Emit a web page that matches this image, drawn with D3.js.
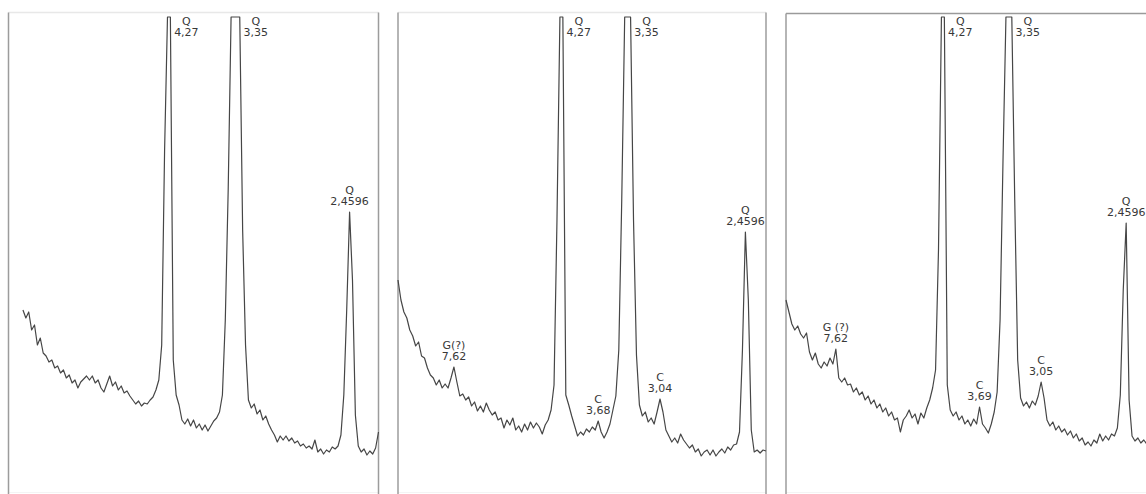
<!DOCTYPE html>
<html>
<head>
<meta charset="utf-8">
<script src="https://cdn.jsdelivr.net/npm/d3@7"></script>
<style>
  body { margin: 0; background: #fff; }
  svg { display: block; font-family: "DejaVu Sans", sans-serif; }
</style>
</head>
<body>
<svg width="1146" height="494"></svg>
<script>
// step scans: 2theta (deg, Cu Ka) start + fixed step, then counts
var step = 0.25;
var start1 = 8.25, start2 = 7.0, start3 = 7.5;

var counts1 = [364,348,360,324,334,294,308,278,272,260,
  264,248,252,238,244,228,234,218,224,208,
  220,226,232,224,232,218,224,208,200,216,
  232,212,220,204,212,198,202,192,184,176,
  182,172,178,176,184,190,204,224,294,684,
  950,950,264,194,174,144,136,146,132,144,
  128,136,124,134,122,132,142,148,160,194,
  344,604,950,950,950,950,524,294,184,168,
  176,156,164,144,152,136,124,114,100,112,
  104,112,102,108,98,102,92,96,88,92,
  86,104,80,86,76,84,80,90,86,92,
  114,194,364,560,424,154,92,80,86,74,
  82,76,88,120];

var counts2 = [424,384,360,348,324,312,292,300,272,268,
  248,234,228,214,224,208,216,208,228,250,
  220,192,196,184,190,172,180,162,172,160,
  178,164,154,160,144,148,128,144,134,148,
  124,132,120,136,124,140,128,138,130,116,
  134,144,164,214,544,950,950,194,174,152,
  132,112,120,114,126,120,130,124,142,120,
  108,120,136,164,192,284,584,950,950,950,
  544,274,174,152,160,140,148,136,160,186,
  160,124,112,100,108,98,116,104,96,88,
  94,80,86,72,80,84,74,84,72,80,
  86,78,90,84,94,96,120,284,520,384,
  124,80,84,78,84,82];

var counts3 = [384,360,336,324,332,316,308,318,280,264,
  278,256,248,260,252,268,256,286,228,220,
  228,214,216,200,208,194,200,184,192,176,
  184,168,176,160,168,152,160,144,148,120,
  144,152,164,148,156,136,158,148,168,184,
  208,244,484,950,950,214,164,152,160,144,
  152,136,144,132,146,136,170,136,128,118,
  136,160,200,344,664,950,950,950,584,264,
  188,172,180,168,182,174,192,220,188,144,
  132,140,124,132,120,126,114,122,108,116,
  102,108,94,100,92,104,98,116,102,112,
  104,116,112,128,194,404,538,184,112,102,
  108,98,104,96];

// picked reflections: phase, d-spacing (A)
var peaks1 = [["Q","4,27"], ["Q","3,35"], ["Q","2,4596"]];
var peaks2 = [["G(?)","7,62"], ["Q","4,27"], ["C","3,68"], ["Q","3,35"], ["C","3,04"], ["Q","2,4596"]];
var peaks3 = [["G (?)","7,62"], ["Q","4,27"], ["C","3,69"], ["Q","3,35"], ["C","3,05"], ["Q","2,4596"]];

var maxCount = 950;  // display clips here

var panels = [
  {counts: counts1, start: start1, peaks: peaks1, dom: [7, 39],    left: 8.5, right: 378.5, top: 12.5, topColor: "#e8e8e8"},
  {counts: counts2, start: start2, peaks: peaks2, dom: [7, 38.25], left: 398, right: 766,   top: 12.5, topColor: "#e8e8e8"},
  {counts: counts3, start: start3, peaks: peaks3, dom: [7.5, 39],  left: 786, right: 1155.5, top: 13.5, topColor: "#9a9a9a"}
];

var svg = d3.select("svg");

var y = d3.scaleLinear().domain([0, maxCount]).range([492, 17]);

function bragg(d) {
  return 2 * Math.asin(1.5406 / (2 * d)) * 180 / Math.PI;
}

panels.forEach(function(p) {
  var x = d3.scaleLinear().domain(p.dom).range([p.left, p.right]);
  var data = p.counts.map(function(c, i) { return {tt: p.start + i * step, c: c}; });

  var g = svg.append("g");

  // frame
  g.append("line")
    .attr("x1", p.left).attr("x2", p.right)
    .attr("y1", p.top).attr("y2", p.top)
    .attr("stroke", p.topColor).attr("stroke-width", 1.5);
  g.append("line")
    .attr("x1", p.left).attr("x2", p.right)
    .attr("y1", 492.5).attr("y2", 492.5)
    .attr("stroke", "#f4f4f4");
  [p.left, p.right].forEach(function(xx) {
    g.append("line")
      .attr("x1", xx).attr("x2", xx)
      .attr("y1", p.top).attr("y2", 494)
      .attr("stroke", "#9c9c9c").attr("stroke-width", 1.5);
  });

  var line = d3.line()
    .x(function(d) { return x(d.tt); })
    .y(function(d) { return y(d.c); });

  g.append("path")
    .datum(data)
    .attr("d", line)
    .attr("fill", "none")
    .attr("stroke", "#464646")
    .attr("stroke-width", 1.2)
    .attr("stroke-linejoin", "round");

  p.peaks.forEach(function(pk) {
    var tt = bragg(+pk[1].replace(",", "."));
    var near = data.filter(function(d) { return Math.abs(d.tt - tt) <= 0.45; });
    var capped = near.filter(function(d) { return d.c >= maxCount; });
    var cx, yb;
    if (capped.length) {
      cx = x(capped[capped.length - 1].tt) + 16;
      yb = 36;
    } else {
      var m = d3.greatest(near, function(d) { return d.c; });
      cx = x(m.tt);
      yb = y(m.c) - 7;
    }
    var t = g.append("text")
      .attr("text-anchor", "middle")
      .attr("font-size", 11)
      .attr("fill", "#383838");
    t.append("tspan").attr("x", cx).attr("y", yb - 11).text(pk[0]);
    t.append("tspan").attr("x", cx).attr("y", yb).text(pk[1]);
  });
});
</script>
</body>
</html>
